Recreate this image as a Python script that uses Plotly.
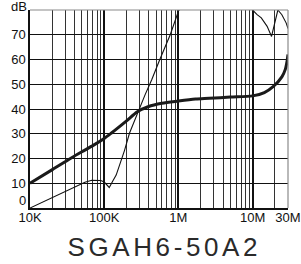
import math
import plotly.graph_objects as go

# ---- data ----
thick_freq = [1e4, 2e4, 3.5e4, 5e4, 7.2e4, 1e5, 1.24e5, 2e5, 2.8e5, 3.9e5, 6e5,
              1e6, 1.7e6, 2.6e6, 5e6, 1e7, 1.44e7, 1.89e7, 2.48e7, 2.76e7, 2.92e7, 3e7]
thick_db = [10, 15.5, 20, 22.7, 25.4, 28.1, 30.2, 35.2, 38.9, 40.9, 42.3,
            43.2, 44.0, 44.3, 44.8, 45.3, 46.6, 49, 53, 56, 59.5, 62]

thin_freq = [1e4, 1.5e4, 2.5e4, 3.5e4, 4.4e4, 5.5e4, 6.8e4, 8e4, 9e4, 1e5, 1.1e5, 1.17e5,
             1.3e5, 1.45e5, 1.88e5, 2.19e5, 3.55e5, 4.37e5, 5.6e5, 7.76e5, 1e6, 1.03e6,
             None,
             1e7, 1.15e7, 1.31e7, 1.57e7, 1.8e7, 2.16e7, 2.19e7, 2.48e7, 2.84e7, 3e7]
thin_db = [0, 2.5, 5.8, 7.8, 9.2, 10.4, 11.2, 11.3, 11.1, 10.5, 9.3, 8.3,
           10.8, 13.3, 23.3, 30.2, 45.7, 51.8, 59.9, 70, 79.5, 80,
           None,
           80, 78.1, 76.8, 73.4, 69.3, 79.5, 80, 78.1, 74.7, 72.5]

x_major_vals = [1e4, 1e5, 1e6, 1e7, 3e7]
x_major_text = ["10K", "100K", "1M", "10M", "30M"]
x_minor_vals = [m * 10 ** e for e in (4, 5, 6) for m in range(2, 10)] + [2e7]
y_tick_vals = [10, 20, 30, 40, 50, 60, 70]
title_text = "SGAH6-50A2"

FONT = "Liberation Sans, Arial, sans-serif"

fig = go.Figure()
fig.add_trace(go.Scatter(x=thin_freq, y=thin_db, mode="lines",
                         line=dict(color="#111111", width=1.1),
                         connectgaps=False, hoverinfo="skip"))
fig.add_trace(go.Scatter(x=thick_freq, y=thick_db, mode="lines",
                         line=dict(color="#1a1a1a", width=3, shape="spline", smoothing=0.8),
                         hoverinfo="skip"))

fig.update_layout(
    width=301, height=264,
    margin=dict(l=30, r=13, t=10, b=56, autoexpand=False),
    paper_bgcolor="white", plot_bgcolor="white",
    showlegend=False,
    font=dict(family=FONT, size=13, color="#111111"),
    title=dict(text=title_text, x=164.3 / 301, xanchor="center",
               y=1 - 247 / 264, yanchor="middle", yref="container", xref="container",
               font=dict(family=FONT, size=26, color="#2a2a2a")),
    xaxis=dict(type="log", range=[4, math.log10(3e7)],
               tickvals=x_major_vals, ticktext=x_major_text,
               showgrid=True, gridcolor="#111111", gridwidth=2,
               minor=dict(tickvals=x_minor_vals, showgrid=True,
                          gridcolor="#333333", gridwidth=1, ticks=""),
               showline=True, linecolor="#111111", linewidth=1.5,
               ticks="", ticklabelstandoff=-3, zeroline=False, fixedrange=True),
    yaxis=dict(range=[0, 80], tickvals=y_tick_vals,
               showgrid=True, gridcolor="#111111", gridwidth=1.3,
               showline=True, linecolor="#111111", linewidth=1.5,
               ticks="", zeroline=False, fixedrange=True),
    shapes=[
        dict(type="line", xref="paper", yref="paper", x0=0, x1=1, y0=1, y1=1,
             line=dict(color="#8a8a8a", width=1.2), layer="above"),
        dict(type="line", xref="paper", yref="paper", x0=1, x1=1, y0=0, y1=1,
             line=dict(color="#8a8a8a", width=1.2), layer="above"),
    ],
    annotations=[
        dict(text="dB", xref="paper", yref="y", x=0, y=80, xanchor="right",
             yanchor="middle", xshift=-1, yshift=4, showarrow=False,
             font=dict(family=FONT, size=13, color="#111111")),
        dict(text="0", xref="paper", yref="y", x=0, y=0, xanchor="right",
             yanchor="middle", xshift=-2, yshift=8, showarrow=False,
             font=dict(family=FONT, size=13, color="#111111")),
    ],
)

post = (
    "document.body.style.margin='0px';"
    "document.querySelectorAll('.gtitle').forEach(function(e){e.style.letterSpacing='3.6px';});"
)
fig.write_html("out.html", config={"displayModeBar": False}, post_script=post)
